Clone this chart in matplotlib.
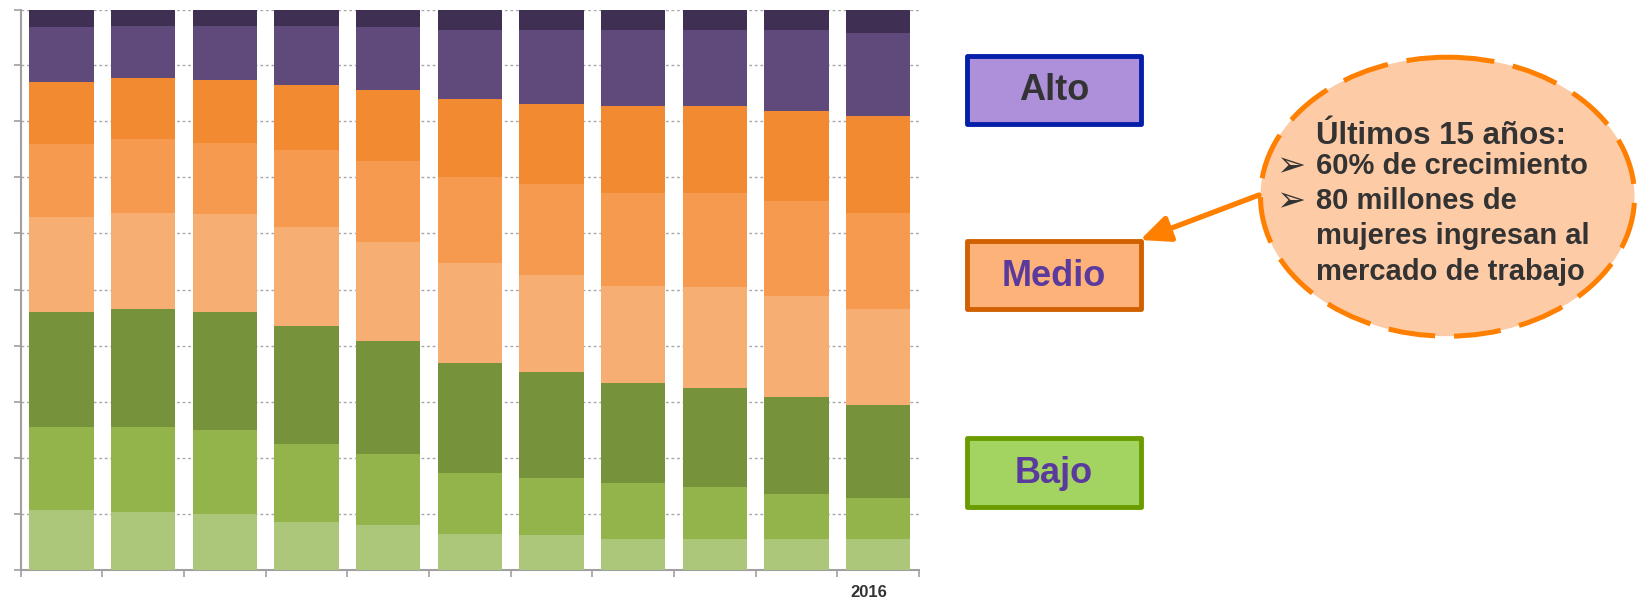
import matplotlib
matplotlib.use("Agg")
import matplotlib.pyplot as plt
from matplotlib.patches import Rectangle, Ellipse, FancyArrowPatch
import numpy as np

plt.rcParams['font.family'] = ['Liberation Sans', 'DejaVu Sans']

# ---- data (shares in %, bottom to top) ----
categories = ["", "", "", "", "", "", "", "", "", "", "2016"]
bajo_1 = [10.7, 10.3, 10.0, 8.4, 7.9, 6.4, 6.1, 5.4, 5.4, 5.4, 5.4]
bajo_2 = [14.7, 15.2, 14.9, 14.0, 12.7, 10.8, 10.3, 10.0, 9.3, 8.0, 7.4]
bajo_3 = [20.6, 21.1, 21.1, 21.0, 20.2, 19.6, 18.8, 17.9, 17.8, 17.4, 16.5]
medio_1 = [17.0, 17.1, 17.4, 17.7, 17.6, 17.9, 17.4, 17.3, 17.9, 18.1, 17.3]
medio_2 = [13.0, 13.1, 12.7, 13.8, 14.5, 15.4, 16.2, 16.7, 16.9, 16.9, 17.1]
medio_3 = [11.0, 11.0, 11.3, 11.7, 12.8, 13.9, 14.4, 15.4, 15.4, 16.1, 17.2]
alto_1 = [9.9, 9.3, 9.7, 10.5, 11.1, 12.3, 13.1, 13.6, 13.6, 14.4, 14.9]
alto_2 = [3.1, 2.9, 2.9, 2.9, 3.2, 3.7, 3.7, 3.7, 3.7, 3.7, 4.2]

series = [bajo_1, bajo_2, bajo_3, medio_1, medio_2, medio_3, alto_1, alto_2]
colors = ["#adc77a", "#93b44b", "#76923b", "#f6ae72", "#f59a4e", "#f28a31",
          "#5f4a7b", "#3f2f52"]

legend_labels = ["Alto", "Medio", "Bajo"]
callout_title = "Últimos 15 años:"
callout_bullets = ["60% de crecimiento", "80 millones de"]
callout_rest = ["mujeres ingresan al", "mercado de trabajo"]

W, H = 1637, 600
fig = plt.figure(figsize=(W / 100, H / 100), dpi=100)

ax = fig.add_axes([20.7 / W, 1 - 569.5 / H, (919 - 20.7) / W, (569.5 - 9.5) / H])
x = np.arange(len(categories))
bottom = np.zeros(len(categories))
for vals, c in zip(series, colors):
    v = np.array(vals)
    ax.bar(x, v, bottom=bottom, width=0.79, color=c, linewidth=0, zorder=3)
    bottom += v

ax.set_xlim(-0.5, len(categories) - 0.5)
ax.set_ylim(0, 100)
ax.set_yticks(np.arange(0, 101, 10))
ax.set_yticklabels([])
ax.set_xticks(np.arange(-0.5, len(categories), 1.0))
ax.set_xticklabels([])
ax.yaxis.grid(True, linestyle=(0, (2, 2)), color="#a8a8a8", linewidth=1.0, zorder=0)
ax.set_axisbelow(True)
for s in ["top", "right"]:
    ax.spines[s].set_visible(False)
for s in ["left", "bottom"]:
    ax.spines[s].set_color("#a0a0a0")
    ax.spines[s].set_linewidth(1.5)
ax.tick_params(axis="both", direction="out", length=5, width=1.2, color="#a0a0a0")
for i, lab in enumerate(categories):
    if lab:
        ax.text(i - 0.12, -2.8, lab, ha="center", va="top", fontsize=12,
                fontweight="bold", color="#333333", transform=ax.transData,
                clip_on=False)

# ---- overlay in pixel coordinates ----
ov = fig.add_axes([0, 0, 1, 1])
ov.set_xlim(0, W)
ov.set_ylim(H, 0)
ov.axis("off")
ov.patch.set_alpha(0)

boxes = [
    (55.7, 124.3, "#ae8fda", "#0420a8", "#333333"),
    (241.0, 309.3, "#fdb27a", "#d06000", "#5b3a9e"),
    (438.3, 506.7, "#a3d462", "#6a9c00", "#5b3a9e"),
]
for (y0, y1, fc, ec, tc), lab in zip(boxes, legend_labels):
    ov.add_patch(Rectangle((966.7, y0), 1141 - 966.7, y1 - y0, facecolor=fc,
                           edgecolor=ec, linewidth=3.5, joinstyle="round"))
    ov.text(1054, (y0 + y1) / 2 + 1, lab, ha="center", va="center",
            fontsize=26, fontweight="bold", color=tc)

ov.add_patch(Ellipse((1447.5, 196.7), 374, 279, facecolor="#fdcba6",
                     edgecolor="#ff7f00", linewidth=3.6,
                     linestyle=(0, (9.4, 3.8))))

ov.add_patch(FancyArrowPatch((1259, 195), (1140, 240),
                             arrowstyle="-|>,head_length=18,head_width=8",
                             color="#ff7f00", linewidth=3.8,
                             shrinkA=0, shrinkB=0, mutation_scale=1))

tc = "#333333"
ov.text(1316, 136, callout_title, ha="left", va="center", fontsize=22.5,
        fontweight="bold", color=tc)
yy = 166
for b in callout_bullets:
    ov.text(1291, yy, "➢", ha="center", va="center", fontsize=25, color=tc,
            family=["DejaVu Sans"])
    ov.text(1316, yy, b, ha="left", va="center", fontsize=21,
            fontweight="bold", color=tc)
    yy += 35.2
for r in callout_rest:
    ov.text(1316, yy, r, ha="left", va="center", fontsize=21,
            fontweight="bold", color=tc)
    yy += 35.2

fig.savefig("out.png", dpi=100)
